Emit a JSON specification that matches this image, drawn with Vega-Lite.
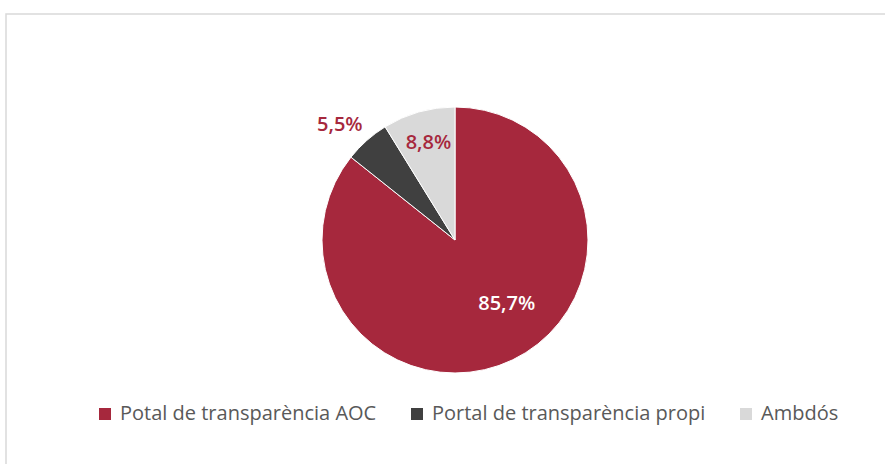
{
  "$schema": "https://vega.github.io/schema/vega-lite/v6.json",
  "autosize": "none",
  "padding": {"left": 6, "top": 14, "right": 0, "bottom": 0},
  "width": 898,
  "height": 452,
  "background": "white",
  "view": {"stroke": "#d9d9d9", "strokeWidth": 1.5},
  "config": {
    "view": {"stroke": "#d9d9d9", "strokeWidth": 1.5},
    "font": "Open Sans"
  },
  "data": {
    "values": [
      {"cat": "Potal de transparència AOC", "value": 85.7, "label": "85,7%", "idx": 1},
      {"cat": "Portal de transparència propi", "value": 5.5, "label": "5,5%", "idx": 2},
      {"cat": "Ambdós", "value": 8.8, "label": "8,8%", "idx": 3}
    ]
  },
  "encoding": {
    "theta": {"field": "value", "type": "quantitative", "stack": true},
    "order": {"field": "idx", "type": "quantitative"}
  },
  "layer": [
    {
      "mark": {"type": "arc", "outerRadius": 133, "stroke": "white", "strokeWidth": 1},
      "encoding": {
        "color": {
          "field": "cat",
          "type": "nominal",
          "scale": {
            "domain": ["Potal de transparència AOC", "Portal de transparència propi", "Ambdós"],
            "range": ["#A6283D", "#404040", "#D9D9D9"]
          },
          "legend": {
            "title": null,
            "orient": "none",
            "direction": "horizontal",
            "columns": 3,
            "legendX": 89,
            "legendY": 390,
            "symbolType": "square",
            "symbolSize": 144,
            "symbolStrokeWidth": 0,
            "labelFontSize": 20,
            "labelLimit": 500,
            "labelColor": "#595959",
            "labelFont": "Open Sans",
            "columnPadding": 30,
            "labelOffset": 5
          }
        }
      }
    },
    {
      "mark": {"type": "text", "radius": 80, "dx": 17, "dy": -8, "fill": "white", "fontSize": 20, "fontWeight": 600, "align": "center", "baseline": "middle"},
      "encoding": {"text": {"condition": {"test": "datum.idx == 1", "field": "label"}, "value": ""}}
    },
    {
      "mark": {"type": "text", "radius": 163, "dx": -7, "dy": 7, "fill": "#A6283D", "fontSize": 20, "fontWeight": 600, "align": "center", "baseline": "middle"},
      "encoding": {"text": {"condition": {"test": "datum.idx == 2", "field": "label"}, "value": ""}}
    },
    {
      "mark": {"type": "text", "radius": 101, "dx": 1, "fill": "#A6283D", "fontSize": 20, "fontWeight": 600, "align": "center", "baseline": "middle"},
      "encoding": {"text": {"condition": {"test": "datum.idx == 3", "field": "label"}, "value": ""}}
    }
  ]
}
